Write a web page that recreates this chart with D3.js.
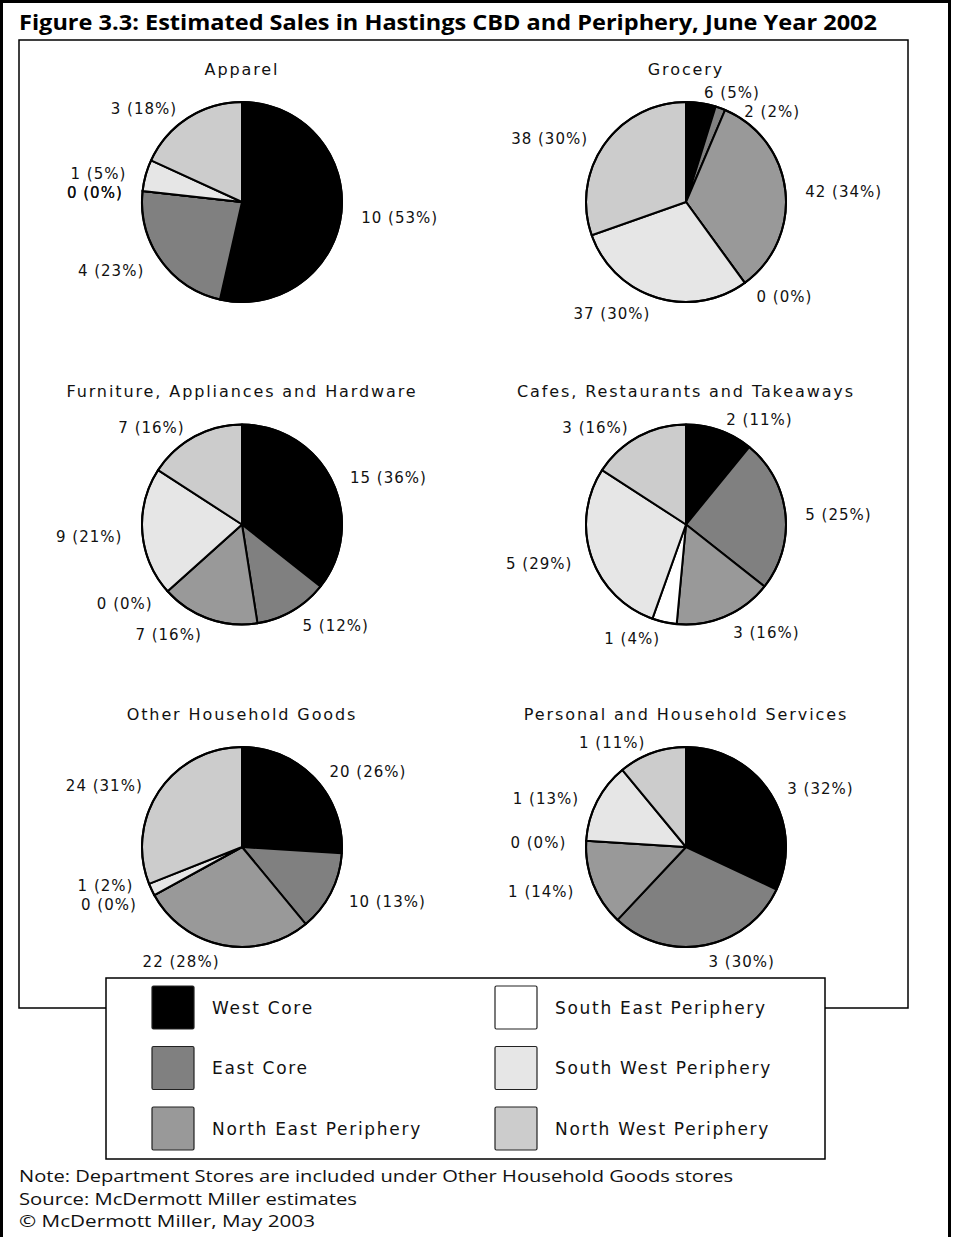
<!DOCTYPE html>
<html><head><meta charset="utf-8">
<script src="https://cdn.jsdelivr.net/npm/d3@7"></script>
<style>body{margin:0;background:#fff} svg{display:block}</style>
</head><body><svg id="c" width="954" height="1237"></svg>
<script>
// ---------- data ----------
const regions = ["West Core","East Core","North East Periphery","South East Periphery","South West Periphery","North West Periphery"];
const regionColors = ["#000000","#808080","#999999","#ffffff","#e6e6e6","#cccccc"];
const categories = ["Apparel","Grocery","Furniture, Appliances and Hardware","Cafes, Restaurants and Takeaways","Other Household Goods","Personal and Household Services"];
// sales ($m, as labelled) and share (%) by region, in region order
const salesApparel   = [10, 4, 0, 0, 1, 3];
const pctApparel     = [53, 23, 0, 0, 5, 18];
const salesGrocery   = [6, 2, 42, 0, 37, 38];
const pctGrocery     = [4.8, 1.6, 33.6, 0, 29.6, 30.4];
const pctGroceryLbl  = [5, 2, 34, 0, 30, 30];
const salesFurniture = [15, 5, 7, 0, 9, 7];
const pctFurniture   = [36, 12, 16, 0, 21, 16];
const salesCafes     = [2, 5, 3, 1, 5, 3];
const pctCafes       = [11, 25, 16, 4, 29, 16];
const salesOther     = [20, 10, 22, 0, 1, 24];
const pctOther       = [26, 13, 28, 0, 2, 31];
const salesPersonal  = [3, 3, 1, 0, 1, 1];
const pctPersonal    = [32, 30, 14, 0, 13, 11];
const titleText = "Figure 3.3: Estimated Sales in Hastings CBD and Periphery, June Year 2002";
const footnotes = ["Note: Department Stores are included under Other Household Goods stores",
                   "Source: McDermott Miller estimates",
                   "\u00A9 McDermott Miller, May 2003"];

const charts = [
  {name: categories[0], sales: salesApparel,   pct: pctApparel,   lbl: pctApparel},
  {name: categories[1], sales: salesGrocery,   pct: pctGrocery,   lbl: pctGroceryLbl},
  {name: categories[2], sales: salesFurniture, pct: pctFurniture, lbl: pctFurniture},
  {name: categories[3], sales: salesCafes,     pct: pctCafes,     lbl: pctCafes},
  {name: categories[4], sales: salesOther,     pct: pctOther,     lbl: pctOther},
  {name: categories[5], sales: salesPersonal,  pct: pctPersonal,  lbl: pctPersonal}
];

// ---------- layout ----------
const svg = d3.select("#c");
const labelFont = "'DejaVu Sans', Verdana, sans-serif";
const colX = d3.scalePoint().domain([0,1]).range([242, 686]);
const rowY = d3.scalePoint().domain([0,1,2]).range([202, 847]);
const color = d3.scaleOrdinal().domain(regions).range(regionColors);
const R = 100, RLx = 120, RLy = 114;

// outer border
svg.append("rect").attr("x",1.5).attr("y",1.5).attr("width",948).attr("height",1260)
  .attr("fill","none").attr("stroke","#000").attr("stroke-width",3);

// title
svg.append("text").attr("x",19).attr("y",30)
  .attr("font-family","'Open Sans', 'Noto Sans', sans-serif").attr("font-weight","bold")
  .attr("font-size",21).attr("textLength",858).attr("lengthAdjust","spacingAndGlyphs")
  .text(titleText);

// chart frame
svg.append("rect").attr("x",19).attr("y",40).attr("width",889).attr("height",968)
  .attr("fill","none").attr("stroke","#000").attr("stroke-width",1.5);

const pie = d3.pie().sort(null).value(d => d.pct);
const arc = d3.arc().innerRadius(0).outerRadius(R);

charts.forEach((c, ci) => {
  const cx = colX(ci % 2), cy = rowY(Math.floor(ci / 2));
  const g = svg.append("g").attr("transform", `translate(${cx},${cy})`);
  const data = regions.map((r, i) => ({region: r, pct: c.pct[i], sales: c.sales[i], lbl: c.lbl[i], idx: i}));
  const arcs = pie(data);

  g.selectAll("path.slice").data(arcs).join("path").attr("class","slice")
    .attr("d", arc).attr("fill", d => color(d.data.region))
    .attr("stroke","#000").attr("stroke-width",2).attr("stroke-linejoin","round");
  g.append("circle").attr("r",R).attr("fill","none").attr("stroke","#000").attr("stroke-width",2);

  // category title
  g.append("text").attr("x",0).attr("y",-133).attr("dy","0.35em")
    .attr("text-anchor","middle").attr("font-family",labelFont).attr("font-size",16)
    .attr("letter-spacing",1.9).attr("fill","#111").text(c.name);

  // labels
  const labs = arcs.map(a => {
    const m = (a.startAngle + a.endAngle) / 2;
    const dx = Math.sin(m), dy = -Math.cos(m);
    return {a, m, side: dx >= 0 ? 1 : -1, x: dx * RLx, y: dy * RLy + 3,
            text: `${a.data.sales} (${a.data.lbl}%)`};
  });
  const texts = g.selectAll("text.lab").data(labs).join("text").attr("class","lab")
    .attr("font-family",labelFont).attr("font-size",15).attr("letter-spacing",1)
    .attr("fill","#111").attr("text-anchor", d => d.side > 0 ? "start" : "end")
    .text(d => d.text);
  texts.each(function(d){ d.w = this.getComputedTextLength() + 8; });
  // simple clockwise collision push, keeping the moved label clear of the pie
  const gap = 19;
  labs.forEach((d, i) => {
    for (let j = 0; j < i; j++) {
      const o = labs[j];
      if (o.side !== d.side || Math.abs(o.m - d.m) < 1e-9) continue;
      const x0 = d.side > 0 ? d.x : d.x - d.w, x1 = x0 + d.w;
      const ox0 = o.side > 0 ? o.x : o.x - o.w, ox1 = ox0 + o.w;
      if (x1 > ox0 && ox1 > x0 && Math.abs(d.y - o.y) < gap) {
        d.y = d.side > 0 ? o.y + gap : o.y - gap;
        const near = Math.max(0, Math.abs(d.y) - 7);
        const minX = Math.sqrt(Math.max(0, (R + 2) ** 2 - near ** 2));
        if (Math.abs(d.x) < minX) d.x = d.side * minX;
      }
    }
  });
  texts.attr("x", d => d.x).attr("y", d => d.y).attr("dy","0.35em");
});

// legend
const lg = svg.append("g");
lg.append("rect").attr("x",106).attr("y",978).attr("width",719).attr("height",181)
  .attr("fill","#fff").attr("stroke","#000").attr("stroke-width",1.5);
const legX = d3.scalePoint().domain([0,1]).range([152, 495]);
const legY = d3.scalePoint().domain([0,1,2]).range([986, 1107]);
const items = lg.selectAll("g.item").data(regions).join("g").attr("class","item")
  .attr("transform", (d,i) => `translate(${legX(Math.floor(i/3))},${legY(i%3)})`);
items.append("rect").attr("width",42).attr("height",43).attr("rx",1.5)
  .attr("fill", d => color(d)).attr("stroke","#222").attr("stroke-width",1.2);
items.append("text").attr("x",60).attr("y",22).attr("dy","0.35em")
  .attr("font-family",labelFont).attr("font-size",17).attr("letter-spacing",1.7)
  .attr("fill","#111").text(d => d);

// footnotes
const footWidths = [714, 338, 296];
svg.selectAll("text.foot").data(footnotes).join("text").attr("class","foot")
  .attr("x",19).attr("y",(d,i) => 1182 + i*22.5)
  .attr("font-family","'Open Sans', 'Noto Sans', sans-serif").attr("font-size",17)
  .attr("textLength",(d,i) => footWidths[i]).attr("lengthAdjust","spacingAndGlyphs")
  .attr("fill","#111").text(d => d);
</script></body></html>
